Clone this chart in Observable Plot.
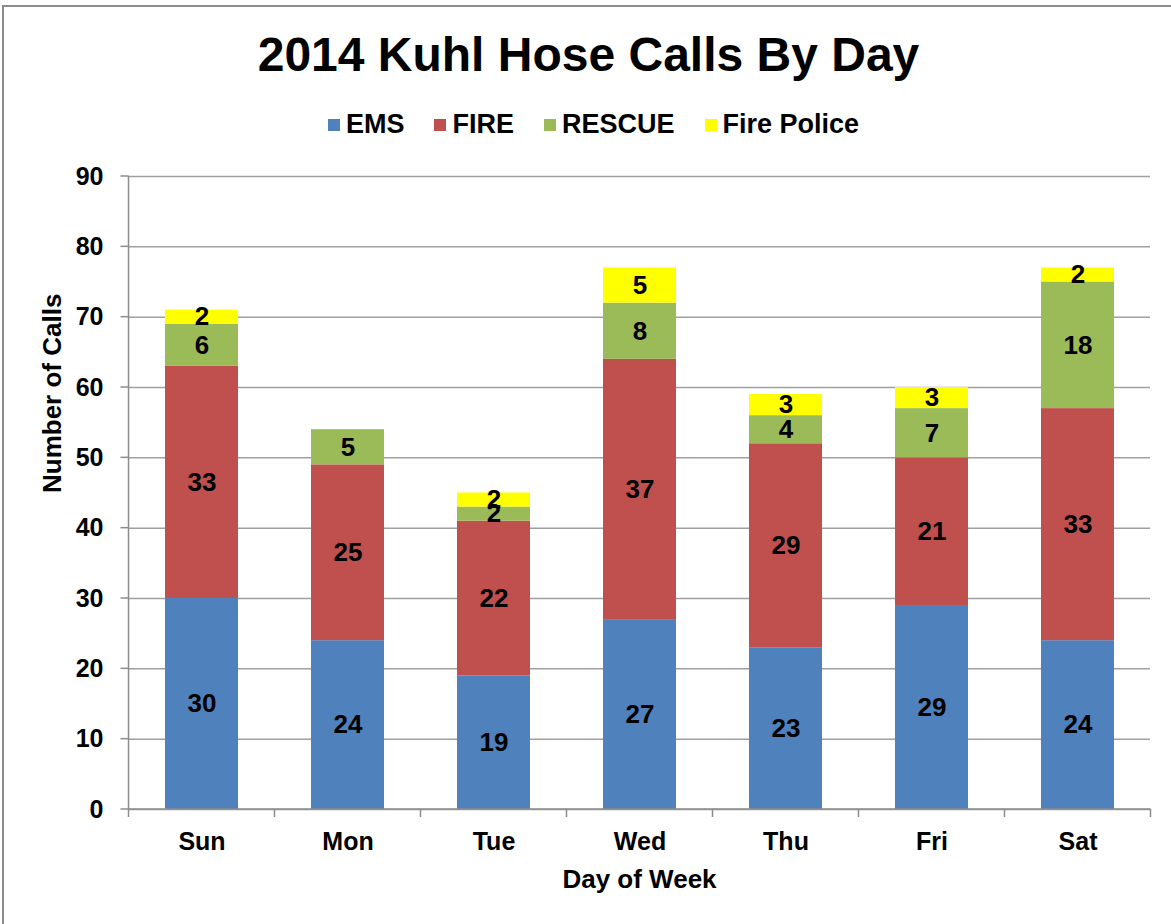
<!DOCTYPE html>
<html>
<head>
<meta charset="utf-8">
<script src="https://cdn.jsdelivr.net/npm/d3@7"></script>
<script src="https://cdn.jsdelivr.net/npm/@observablehq/plot@0.6"></script>
<style>
  html, body { margin: 0; padding: 0; background: #fff; }
  body { position: relative; width: 1171px; height: 924px; overflow: hidden; font-family: "Liberation Sans", Arial, sans-serif; }
  #frame { position: absolute; left: 2px; top: 5px; width: 1300px; height: 1000px; border-left: 2px solid #8c8c8c; border-top: 2px solid #8c8c8c; box-sizing: border-box; }
  #title { position: absolute; left: 0; top: 31px; width: 1171px; text-align: center; font-size: 48px; line-height: 48px; font-weight: bold; color: #000; padding-left: 6px; box-sizing: border-box; }
  #legend { position: absolute; left: 0; top: 111px; width: 1171px; display: flex; justify-content: center; font-size: 27px; line-height: 27px; font-weight: bold; color: #000; padding-left: 16px; box-sizing: border-box; }
  .item { display: flex; align-items: center; margin: 0 15px; }
  .sw { width: 12px; height: 12px; margin-right: 6px; }
  #chart { position: absolute; left: 0; top: 150px; }
</style>
</head>
<body>
<div id="frame"></div>
<div id="title">2014 Kuhl Hose Calls By Day</div>
<div id="legend"></div>
<div id="chart"></div>
<script>
const days = ["Sun", "Mon", "Tue", "Wed", "Thu", "Fri", "Sat"];
const types = ["EMS", "FIRE", "RESCUE", "Fire Police"];
const ems = [30, 24, 19, 27, 23, 29, 24];
const fire = [33, 25, 22, 37, 29, 21, 33];
const rescue = [6, 5, 2, 8, 4, 7, 18];
const firePolice = [2, 0, 2, 5, 3, 3, 2];
const colors = ["#4F81BD", "#C0504D", "#9BBB59", "#FFFF00"];
const yTicks = [0, 10, 20, 30, 40, 50, 60, 70, 80, 90];

const series = [ems, fire, rescue, firePolice];
const data = [];
types.forEach((t, i) => days.forEach((d, j) => data.push({day: d, type: t, value: series[i][j]})));
const nonZero = data.filter(d => d.value > 0);

// legend
const legend = document.getElementById("legend");
types.forEach((t, i) => {
  const it = document.createElement("div");
  it.className = "item";
  const sw = document.createElement("div");
  sw.className = "sw";
  sw.style.background = colors[i];
  const lab = document.createElement("span");
  lab.textContent = t;
  it.appendChild(sw); it.appendChild(lab);
  legend.appendChild(it);
});

const axisLines = (index, scales) => {
  const x = scales.x, y = scales.y;
  const step = x.step ? x.step() : 146;
  const bw = x.bandwidth ? x.bandwidth() : 73;
  const bounds = days.map(d => x(d) + bw / 2 - step / 2);
  bounds.push(bounds[bounds.length - 1] + step);
  const y0 = y(0), yTop = y(yTicks[yTicks.length - 1]);
  const g = d3.create("svg:g").attr("stroke", "#8c8c8c").attr("stroke-width", 1.5).attr("fill", "none");
  g.append("line").attr("x1", bounds[0]).attr("x2", bounds[bounds.length - 1]).attr("y1", y0).attr("y2", y0);
  g.append("line").attr("x1", bounds[0]).attr("x2", bounds[0]).attr("y1", yTop).attr("y2", y0);
  bounds.forEach(b => g.append("line").attr("x1", b).attr("x2", b).attr("y1", y0).attr("y2", y0 + 8));
  yTicks.forEach(t => g.append("line").attr("x1", bounds[0] - 8).attr("x2", bounds[0]).attr("y1", y(t)).attr("y2", y(t)));
  return g.node();
};

const chart = Plot.plot({
  width: 1171,
  height: 774,
  marginTop: 26,
  marginBottom: 115,
  marginLeft: 128,
  marginRight: 21,
  style: {fontFamily: "'Liberation Sans', Arial, sans-serif", fontSize: "25px", fontWeight: "bold", color: "#000", background: "transparent"},
  x: {domain: days, paddingInner: 0.5, paddingOuter: 0.25, label: null, tickSize: 0, tickPadding: 23},
  y: {domain: [0, 90], ticks: yTicks, label: null, tickSize: 0, tickPadding: 25},
  color: {domain: types, range: colors},
  marks: [
    Plot.ruleY(yTicks, {stroke: "#a0a0a0", strokeWidth: 1.5}),
    Plot.barY(data, Plot.stackY({x: "day", y: "value", fill: "type", z: "type"})),
    Plot.text(nonZero, Plot.stackY({x: "day", y: "value", z: "type", text: d => String(d.value), fill: "#000", fontSize: 26, fontWeight: "bold"})),
    axisLines,
    Plot.text(["Day of Week"], {frameAnchor: "bottom", dy: 78, fontSize: 26, fontWeight: "bold", fill: "#000"}),
    Plot.text(["Number of Calls"], {frameAnchor: "left", dx: -76, rotate: -90, fontSize: 26, fontWeight: "bold", fill: "#000"})
  ]
});
document.getElementById("chart").appendChild(chart);
</script>
</body>
</html>
